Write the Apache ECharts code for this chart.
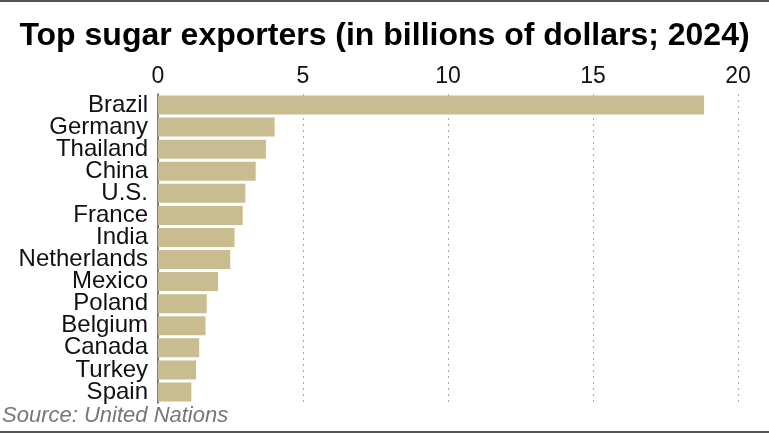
<!DOCTYPE html>
<html>
<head>
<meta charset="utf-8">
<script src="https://cdn.jsdelivr.net/npm/echarts@6/dist/echarts.min.js"></script>
<style>
  html, body { margin: 0; padding: 0; background: #fff; }
  #main { width: 769px; height: 434px; }
</style>
</head>
<body>
<div id="main"></div>
<script>
// data (billions of dollars, 2024)
var countries = ['Brazil', 'Germany', 'Thailand', 'China', 'U.S.', 'France', 'India',
    'Netherlands', 'Mexico', 'Poland', 'Belgium', 'Canada', 'Turkey', 'Spain'];
var exports = [18.83, 4.02, 3.72, 3.37, 3.01, 2.92, 2.64, 2.49, 2.07, 1.68, 1.64, 1.42, 1.31, 1.15];
var xTicks = [0, 5, 10, 15, 20];

var myChart = echarts.init(document.getElementById('main'));

myChart.setOption({
    animation: false,
    textStyle: { fontFamily: 'Liberation Sans, Arial, sans-serif' },
    title: {
        text: 'Top sugar exporters (in billions of dollars; 2024)',
        left: 'center',
        top: 15,
        textStyle: {
            fontFamily: '"Liberation Sans", Arial, sans-serif',
            fontWeight: 'bold',
            fontSize: 32,
            color: '#000'
        }
    },
    graphic: [
        { type: 'rect', shape: { x: 0, y: 0, width: 769, height: 2 }, style: { fill: '#555' } },
        { type: 'rect', shape: { x: 0, y: 431, width: 769, height: 2 }, style: { fill: '#555' } },
        {
            type: 'text', left: 2, top: 405,
            style: {
                text: 'Source: United Nations',
                fill: '#777',
                font: 'italic 22px "Liberation Sans", Arial, sans-serif'
            }
        }
    ],
    grid: { left: 158, right: 31, top: 94, bottom: 31, containLabel: false },
    xAxis: {
        type: 'value',
        position: 'top',
        min: xTicks[0],
        max: xTicks[xTicks.length - 1],
        interval: 5,
        axisLine: { show: false },
        axisTick: { show: false },
        axisLabel: { color: '#111', fontSize: 23, margin: 6 },
        splitLine: {
            show: true,
            lineStyle: { color: '#aaa', type: [2, 4], width: 1 }
        }
    },
    yAxis: {
        type: 'category',
        inverse: true,
        data: countries,
        axisLine: { show: true, lineStyle: { color: '#555', width: 1.5 } },
        axisTick: { show: false },
        axisLabel: { color: '#111', fontSize: 24, margin: 10, interval: 0 }
    },
    series: [{
        type: 'bar',
        data: exports,
        barCategoryGap: '14%',
        itemStyle: { color: '#c9bc90' },
        silent: true
    }]
});
</script>
</body>
</html>
